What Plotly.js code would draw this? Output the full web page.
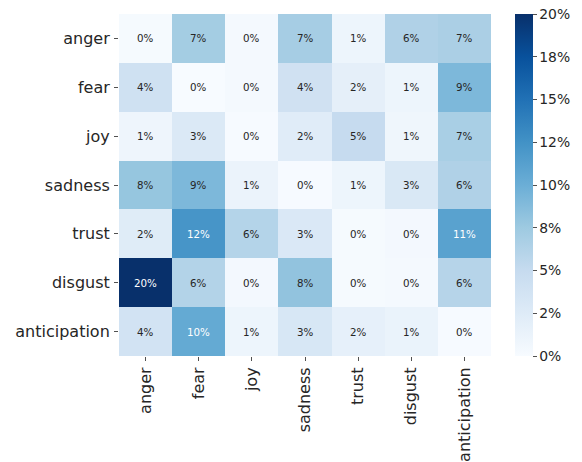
<!DOCTYPE html>
<html>
<head>
<meta charset="utf-8">
<script src="https://cdn.plot.ly/plotly-3.0.1.min.js"></script>
<style>html,body{margin:0;padding:0;background:#fff;}#chart{width:582px;height:462px;}</style>
</head>
<body>
<div id="chart"></div>
<script>
const emotions = ["anger", "fear", "joy", "sadness", "trust", "disgust", "anticipation"];
// rows (y) in top-to-bottom order, columns (x) left-to-right
const angerRow        = [0.002, 0.071, 0.003, 0.070, 0.010, 0.064, 0.067];
const fearRow         = [0.041, 0.000, 0.003, 0.040, 0.018, 0.010, 0.091];
const joyRow          = [0.009, 0.028, 0.001, 0.023, 0.050, 0.008, 0.068];
const sadnessRow      = [0.079, 0.091, 0.012, 0.001, 0.010, 0.030, 0.064];
const trustRow        = [0.024, 0.122, 0.061, 0.029, 0.002, 0.004, 0.111];
const disgustRow      = [0.200, 0.062, 0.004, 0.081, 0.002, 0.003, 0.060];
const anticipationRow = [0.038, 0.104, 0.010, 0.032, 0.017, 0.013, 0.001];
const cbTickVals = [0, 0.025, 0.05, 0.075, 0.1, 0.125, 0.15, 0.175, 0.2];
const cbTickText = ["0%", "2%", "5%", "8%", "10%", "12%", "15%", "18%", "20%"];

const z = [angerRow, fearRow, joyRow, sadnessRow, trustRow, disgustRow, anticipationRow];

const blues = [
  [0.0, "#f7fbff"], [0.125, "#deebf7"], [0.25, "#c6dbef"], [0.375, "#9ecae1"],
  [0.5, "#6baed6"], [0.625, "#4292c6"], [0.75, "#2171b5"], [0.875, "#08519c"], [1.0, "#08306b"]
];

const annotations = [];
z.forEach((row, i) => {
  row.forEach((v, j) => {
    annotations.push({
      x: emotions[j], y: emotions[i], xref: "x", yref: "y",
      text: Math.round(v * 100) + "%", showarrow: false,
      font: {family: "DejaVu Sans", size: 10.3, color: v >= 0.1 ? "#ffffff" : "#262626"}
    });
  });
});

const trace = {
  type: "heatmap",
  x: emotions, y: emotions, z: z,
  zmin: 0, zmax: 0.2,
  colorscale: blues,
  xgap: 0, ygap: 0,
  colorbar: {
    x: 1.064, xanchor: "left", xref: "paper",
    y: 0.5, yanchor: "middle", len: 1, lenmode: "fraction",
    thickness: 18, thicknessmode: "pixels",
    outlinewidth: 0,
    tickmode: "array", tickvals: cbTickVals, ticktext: cbTickText,
    ticks: "outside", ticklen: 4, tickwidth: 0.8, tickcolor: "#262626",
    tickfont: {family: "DejaVu Sans", size: 13.9, color: "#262626"},
    xpad: 0, ypad: 0
  }
};

const layout = {
  width: 582, height: 462,
  margin: {l: 119, r: 89, t: 14, b: 106, pad: 0},
  paper_bgcolor: "#ffffff", plot_bgcolor: "#ffffff",
  font: {family: "DejaVu Sans", color: "#262626"},
  xaxis: {
    type: "category", tickangle: -90, ticks: "outside", ticklen: 4, tickwidth: 0.8,
    tickcolor: "#262626", showgrid: false, zeroline: false, showline: false,
    tickfont: {family: "DejaVu Sans", size: 16, color: "#262626"},
    ticklabelstandoff: 0
  },
  yaxis: {
    type: "category", autorange: "reversed", ticks: "outside", ticklen: 4, tickwidth: 0.8,
    tickcolor: "#262626", showgrid: false, zeroline: false, showline: false,
    tickfont: {family: "DejaVu Sans", size: 16, color: "#262626"},
    ticklabelstandoff: 1
  },
  annotations: annotations,
  showlegend: false
};

Plotly.newPlot("chart", [trace], layout, {staticPlot: true, displayModeBar: false});
</script>
</body>
</html>
